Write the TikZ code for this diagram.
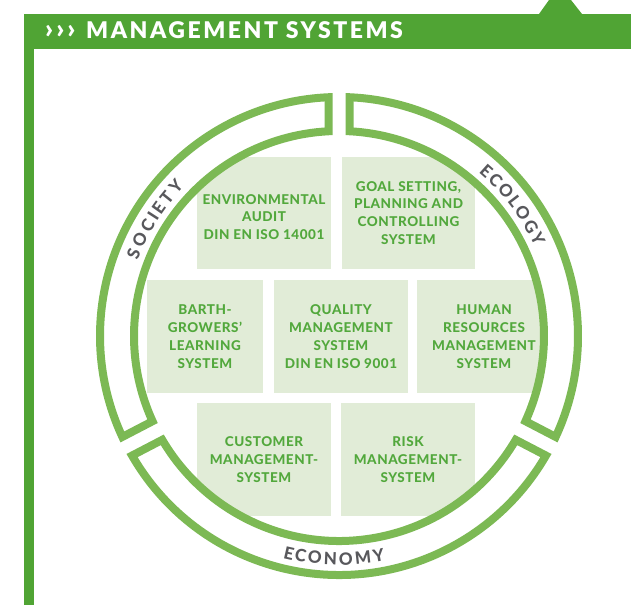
\documentclass[tikz,border=0pt]{standalone}
\usepackage{fontspec}
\setmainfont{Lato}
\newfontfamily\boxfont{Lato Heavy}[LetterSpace=4]
\newfontfamily\ringfont{Lato Heavy}
\newfontfamily\headfont{Lato Black}[LetterSpace=11]
\usepackage{tikz}
\usetikzlibrary{decorations.text}
\definecolor{headgreen}{RGB}{80,164,52}
\definecolor{ringgreen}{RGB}{124,185,84}
\definecolor{boxfill}{RGB}{225,236,215}
\definecolor{boxtext}{RGB}{82,168,60}
\definecolor{ringgray}{RGB}{88,88,92}

\begin{document}
\begin{tikzpicture}[x=1pt, y=1pt,
    sysbox/.style={rectangle, fill=boxfill, minimum width=134pt, minimum height=113pt, inner sep=0pt, align=center, text=boxtext, font=\boxfont\fontsize{13.5}{17.8}\selectfont},
    band/.style={draw=ringgreen, line width=8pt, fill=white},
    ringlabel/.style={decorate, decoration={text effects along path, text align=center,
      text effects/.cd, text along path, fit text to path,
      characters={text=ringgray, font=\ringfont\fontsize{17}{17}\selectfont}}}
  ]
  \useasboundingbox (0,0) rectangle (631,605);

  % header bar
  \fill[headgreen] (24,556) rectangle (631,591);
  \fill[headgreen] (24,0) rectangle (34,556);
  \fill[headgreen] (539,591) -- (549,605) -- (571,605) -- (582,591) -- cycle;
  \node[anchor=base west, inner sep=0pt, text=white, font=\headfont\fontsize{23}{23}\selectfont] (title) at (45,566) {{\fontsize{27}{27}\selectfont›››}\hspace{3pt} MANAGEMENT SYSTEMS};

  % systems
  \node[sysbox, minimum height=112pt] (env) at (264,392) {\mbox{}\\ENVIRONMENTAL\\AUDIT\\DIN EN ISO 14001};
  \node[sysbox, minimum width=133pt, minimum height=112pt] (goal) at (408.5,392) {GOAL SETTING,\\PLANNING AND\\CONTROLLING\\SYSTEM};
  \node[sysbox, minimum width=116pt] (barth) at (205,268.5) {BARTH-\\GROWERS’\\LEARNING\\SYSTEM};
  \node[sysbox] (quality) at (341,268.5) {QUALITY\\MANAGEMENT\\SYSTEM\\DIN EN ISO 9001};
  \node[sysbox] (hr) at (484,268.5) {HUMAN\\RESOURCES\\MANAGEMENT\\SYSTEM};
  \node[sysbox] (customer) at (264,145.5) {CUSTOMER\\MANAGEMENT-\\SYSTEM};
  \node[sysbox] (risk) at (408,145.5) {RISK\\MANAGEMENT-\\SYSTEM};

  % ring
  \begin{scope}[shift={(339,269)}]
    \pgfmathsetmacro\dOut{asin(10.5/239)}
    \pgfmathsetmacro\dIn{asin(10.5/205)}
    \foreach \a/\b in {90/207.5, 207.5/332.5, -27.5/90}
      \draw[band] ({\a+\dOut}:239) arc[start angle=\a+\dOut, end angle=\b-\dOut, radius=239]
        -- ({\b-\dIn}:205) arc[start angle=\b-\dIn, end angle=\a+\dIn, radius=205] -- cycle;

    \path[ringlabel, decoration={text={SOCIETY}}] (159.5:215) arc[start angle=159.5, end angle=136, radius=215];
    \path[ringlabel, decoration={text={ECOLOGY}}] (49.5:215) arc[start angle=49.5, end angle=24.5, radius=215];
    \path[ringlabel, decoration={text={ECONOMY}}] (-104.2:229) arc[start angle=-104.2, end angle=-78.4, radius=229];
  \end{scope}
\end{tikzpicture}
\end{document}
